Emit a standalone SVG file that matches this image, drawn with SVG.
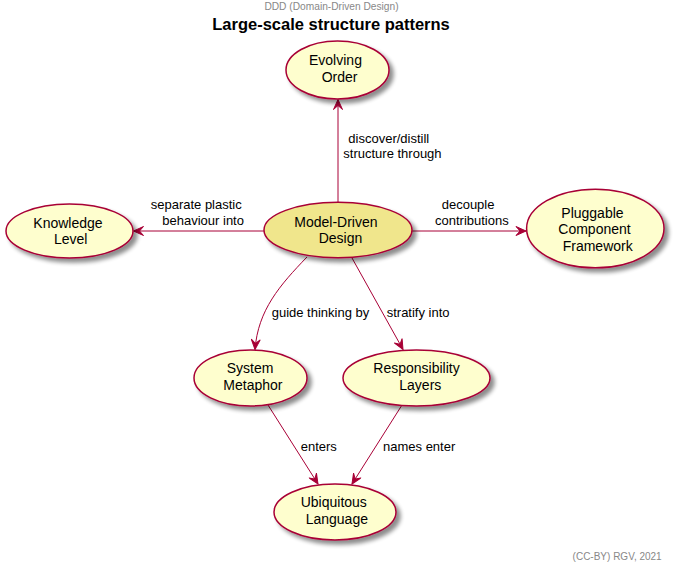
<svg xmlns="http://www.w3.org/2000/svg" width="674" height="568" viewBox="0 0 674 568">
<style>
text{font-family:"Liberation Sans",Arial,sans-serif;fill:#000}
.node{fill:#FEFECE;stroke:#A80036;stroke-width:1.5;filter:url(#sh)}
.core{fill:#F0E68C}
.nt{font-size:14px}
.lt{font-size:13px}
.edge{fill:none;stroke:#A80036;stroke-width:1;marker-end:url(#arr)}
.small{font-size:10px;fill:#888888}
</style>
<defs>
<filter id="sh" x="-20%" y="-20%" width="150%" height="160%">
<feGaussianBlur in="SourceAlpha" stdDeviation="2"/>
<feOffset dx="4" dy="4" result="b"/>
<feComponentTransfer><feFuncA type="linear" slope="0.45"/></feComponentTransfer>
<feMerge><feMergeNode/><feMergeNode in="SourceGraphic"/></feMerge>
</filter>
<marker id="arr" viewBox="-11 -5 12 10" refX="0" refY="0" markerWidth="12" markerHeight="10" markerUnits="userSpaceOnUse" orient="auto">
<path d="M0,0 L-10,-4.5 L-6,0 L-10,4.5 Z" fill="#A80036" stroke="#A80036" stroke-width="1"/>
</marker>
</defs>
<rect width="674" height="568" fill="#FFFFFF"/>
<text class="small" x="331.5" y="9.5" text-anchor="middle" style="font-size:10.2px">DDD (Domain-Driven Design)</text>
<text x="331" y="30" text-anchor="middle" style="font-size:16.5px;font-weight:bold">Large-scale structure patterns</text>
<g id="connectors">
<path class="edge" d="M338,202 L338,99.5"/>
<path class="edge" d="M264,231 L133.5,231"/>
<path class="edge" d="M412,231 L526,231"/>
<path class="edge" d="M307,257 C280,285 258,310 255,349.5"/>
<path class="edge" d="M352,258 L403,349.5"/>
<path class="edge" d="M268,405 L318,484"/>
<path class="edge" d="M402,405 L352,484"/>
<text class="lt" x="348.3" y="142.5">discover/distill</text>
<text class="lt" x="343.3" y="157.7">structure through</text>
<text class="lt" x="150.7" y="208.5">separate plastic</text>
<text class="lt" x="162.3" y="225.3">behaviour into</text>
<text class="lt" x="441.7" y="208.5">decouple</text>
<text class="lt" x="435" y="225.3">contributions</text>
<text class="lt" x="271.7" y="316.7">guide thinking by</text>
<text class="lt" x="386.7" y="316.7">stratify into</text>
<text class="lt" x="300.7" y="450.7">enters</text>
<text class="lt" x="383" y="450.7">names enter</text>
</g>
<g id="evolving-order">
<ellipse class="node" cx="337.5" cy="70" rx="51.5" ry="29"/>
<text class="nt" x="309" y="64.5">Evolving</text>
<text class="nt" x="321.7" y="81.5">Order</text>
</g>
<g id="knowledge-level">
<ellipse class="node" cx="69.5" cy="231" rx="63.5" ry="27"/>
<text class="nt" x="33.3" y="227.5">Knowledge</text>
<text class="nt" x="54" y="244">Level</text>
</g>
<g id="model-driven-design">
<ellipse class="node core" cx="338" cy="230" rx="74" ry="27.7"/>
<text class="nt" x="294.3" y="226.7">Model-Driven</text>
<text class="nt" x="318.7" y="243.3">Design</text>
</g>
<g id="pluggable-component-framework">
<ellipse class="node" cx="595.3" cy="228.5" rx="68.7" ry="39.3"/>
<text class="nt" x="561.3" y="217.7">Pluggable</text>
<text class="nt" x="558.3" y="234.3">Component</text>
<text class="nt" x="562.7" y="251">Framework</text>
</g>
<g id="system-metaphor">
<ellipse class="node" cx="250.5" cy="378" rx="56.5" ry="28"/>
<text class="nt" x="226.7" y="373.3">System</text>
<text class="nt" x="223.3" y="390">Metaphor</text>
</g>
<g id="responsibility-layers">
<ellipse class="node" cx="416.5" cy="378" rx="73.5" ry="28"/>
<text class="nt" x="373.3" y="373.3">Responsibility</text>
<text class="nt" x="399.3" y="390">Layers</text>
</g>
<g id="ubiquitous-language">
<ellipse class="node" cx="335" cy="512" rx="61" ry="28"/>
<text class="nt" x="300.7" y="506.7">Ubiquitous</text>
<text class="nt" x="305.7" y="524.3">Language</text>
</g>
<text class="small" x="661.7" y="560" text-anchor="end">(CC-BY) RGV, 2021</text>
</svg>
